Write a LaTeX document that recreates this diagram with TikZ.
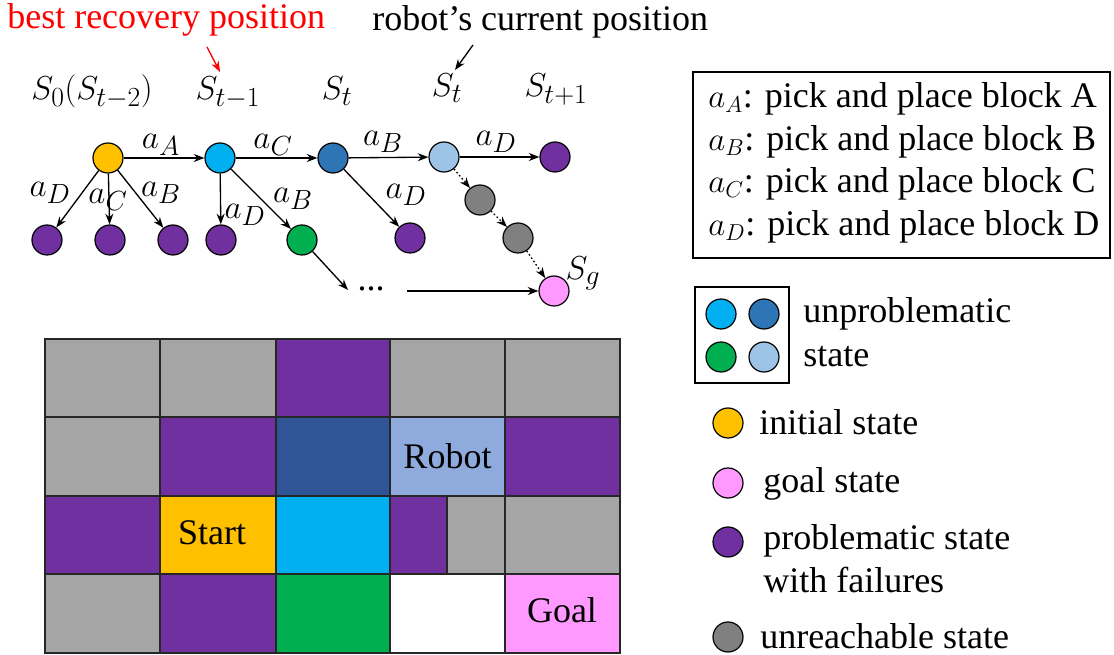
\documentclass[tikz,border=0pt]{standalone}
\usepackage{fontspec}
\setmainfont{Liberation Serif}
\newfontfamily\tnr{Liberation Serif}
\usetikzlibrary{arrows.meta}
\definecolor{cgray}{HTML}{A5A5A5}
\definecolor{cpurple}{HTML}{7030A0}
\definecolor{cdblue}{HTML}{2F5597}
\definecolor{clblue}{HTML}{8FAADC}
\definecolor{ccyan}{HTML}{00B0F0}
\definecolor{corange}{HTML}{FFC000}
\definecolor{cgreen}{HTML}{00B050}
\definecolor{cpink}{HTML}{FF99FF}
\definecolor{nblue}{HTML}{2E75B6}
\definecolor{npale}{HTML}{9DC3E6}
\definecolor{ngray}{HTML}{808080}
\definecolor{cred}{HTML}{FF0000}
\begin{document}
\begin{tikzpicture}[x=0.75pt,y=-0.75pt,
  every node/.style={font=\tnr\fontsize{27}{32}\selectfont},
  st/.style={circle,draw=black,line width=0.9pt,minimum size=22.5pt,inner sep=0pt},
  arr/.style={-{Stealth[length=8pt,width=6pt]},line width=1pt},
  dotarr/.style={arr,dash pattern=on 1.2pt off 1.8pt},
  cell/.style={draw=black!85,line width=0.8pt},
  lab/.style={inner sep=0pt,font=\tnr\fontsize{30}{34}\selectfont},
  txt/.style={anchor=base west,inner sep=0pt}]
\useasboundingbox (0,0) rectangle (1114,655);

% ---- top annotations
\node[txt,text=cred] (best) at (7,29) {best recovery position};
\node[txt] (robot) at (372,31) {robot’s current position};

% ---- state labels
\node[anchor=base,lab] (t0) at (92,100) {$S_0(S_{t-2})$};
\node[anchor=base,lab] (t1) at (228,100) {$S_{t-1}$};
\node[anchor=base,lab] (t2) at (337,100) {$S_t$};
\node[anchor=base,lab] (t3) at (447,97) {$S_t$};
\node[anchor=base,lab] (t4) at (556,97) {$S_{t+1}$};

\coordinate (ra1) at (207,47);
\coordinate (ra2) at (220,72);
\coordinate (ba1) at (473,45);
\coordinate (ba2) at (455,70);
\draw[arr,cred] (ra1) -- (ra2);
\draw[arr] (ba1) -- (ba2);

% ---- tree nodes
\node[st,fill=corange] (s0) at (108,158) {};
\node[st,fill=ccyan] (s1) at (220,158) {};
\node[st,fill=nblue] (s2) at (333,158) {};
\node[st,fill=npale] (s3) at (444,157) {};
\node[st,fill=cpurple] (s4) at (555,157) {};
\node[st,fill=cpurple] (p1) at (47,240) {};
\node[st,fill=cpurple] (p2) at (110,240) {};
\node[st,fill=cpurple] (p3) at (173,240) {};
\node[st,fill=cpurple] (p4) at (221,240) {};
\node[st,fill=cgreen] (g1) at (302,240) {};
\node[st,fill=cpurple] (p5) at (410,238) {};
\node[st,fill=ngray] (u1) at (480,200) {};
\node[st,fill=ngray] (u2) at (518,238) {};
\node[st,fill=cpink] (sg) at (554,291) {};
\node[inner sep=0pt] (dots) at (371,289) {...};
\coordinate (d1) at (348,290);
\coordinate (d2) at (407,291);

% ---- tree edges
\draw[arr] (s0) -- (s1);
\draw[arr] (s1) -- (s2);
\draw[arr] (s2) -- (s3);
\draw[arr] (s3) -- (s4);
\draw[arr] (s0) -- (p1);
\draw[arr] (s0) -- (p2);
\draw[arr] (s0) -- (p3);
\draw[arr] (s1) -- (p4);
\draw[arr] (s1) -- (g1);
\draw[arr] (s2) -- (p5);
\draw[dotarr] (s3) -- (u1);
\draw[dotarr] (u1) -- (u2);
\draw[dotarr] (u2) -- (sg);
\draw[arr] (g1) -- (d1);
\draw[arr] (d2) -- (sg);

% ---- edge labels
\node[lab] (l1) at (161,145) {$a_A$};
\node[lab] (l2) at (273,145) {$a_C$};
\node[lab] (l3) at (383,142) {$a_B$};
\node[lab] (l4) at (496,142) {$a_D$};
\node[lab] (l5) at (50,193) {$a_D$};
\node[lab] (l6) at (108,200) {$a_C$};
\node[lab] (l7) at (161,193) {$a_B$};
\node[lab] (l8) at (245,215) {$a_D$};
\node[lab] (l9) at (293,199) {$a_B$};
\node[lab] (l10) at (406,195) {$a_D$};
\node[lab] (lg) at (583,273) {$S_g$};

% ---- action legend
\node[draw=black,line width=1.1pt,minimum width=312.75pt,minimum height=139.5pt,inner sep=0pt] (actbox) at (901.5,165) {};
\node[txt] (aA) at (708,108) {$a_A$: pick and place block A};
\node[txt] (aB) at (708,151) {$a_B$: pick and place block B};
\node[txt] (aC) at (708,193) {$a_C$: pick and place block C};
\node[txt] (aD) at (708,236) {$a_D$: pick and place block D};

% ---- state legend
\node[draw=black,line width=1.1pt,minimum width=70.5pt,minimum height=72pt,inner sep=0pt] (unbox) at (742,335) {};
\node[st,fill=ccyan] (k1) at (721,314) {};
\node[st,fill=nblue] (k2) at (764,314) {};
\node[st,fill=cgreen] (k3) at (721,357) {};
\node[st,fill=npale] (k4) at (764,357) {};
\node[txt] (kt1) at (803,323) {unproblematic};
\node[txt] (kt2) at (803,367) {state};
\node[st,fill=corange] (k5) at (728,423) {};
\node[txt] (kt3) at (759,435) {initial state};
\node[st,fill=cpink] (k6) at (728,483) {};
\node[txt] (kt4) at (763,493) {goal state};
\node[st,fill=cpurple] (k7) at (728,542) {};
\node[txt] (kt5) at (763,550) {problematic state};
\node[txt] (kt6) at (763,593) {with failures};
\node[st,fill=ngray] (k8) at (728,637) {};
\node[txt] (kt7) at (760,648) {unreachable state};

% ---- grid
\def\ya{339}\def\yb{417}\def\yc{496}\def\yd{574}\def\ye{653}
% row 1
\filldraw[cell,fill=cgray] (45,\ya) rectangle (160,\yb);
\filldraw[cell,fill=cgray] (160,\ya) rectangle (276,\yb);
\filldraw[cell,fill=cpurple] (276,\ya) rectangle (390,\yb);
\filldraw[cell,fill=cgray] (390,\ya) rectangle (505,\yb);
\filldraw[cell,fill=cgray] (505,\ya) rectangle (620,\yb);
% row 2
\filldraw[cell,fill=cgray] (45,\yb) rectangle (160,\yc);
\filldraw[cell,fill=cpurple] (160,\yb) rectangle (276,\yc);
\filldraw[cell,fill=cdblue] (276,\yb) rectangle (390,\yc);
\filldraw[cell,fill=clblue] (390,\yb) rectangle (505,\yc);
\filldraw[cell,fill=cpurple] (505,\yb) rectangle (620,\yc);
% row 3
\filldraw[cell,fill=cpurple] (45,\yc) rectangle (160,\yd);
\filldraw[cell,fill=corange] (160,\yc) rectangle (276,\yd);
\filldraw[cell,fill=ccyan] (276,\yc) rectangle (390,\yd);
\filldraw[cell,fill=cpurple] (390,\yc) rectangle (447,\yd);
\filldraw[cell,fill=cgray] (447,\yc) rectangle (505,\yd);
\filldraw[cell,fill=cgray] (505,\yc) rectangle (620,\yd);
% row 4
\filldraw[cell,fill=cgray] (45,\yd) rectangle (160,\ye);
\filldraw[cell,fill=cpurple] (160,\yd) rectangle (276,\ye);
\filldraw[cell,fill=cgreen] (276,\yd) rectangle (390,\ye);
\filldraw[cell,fill=white] (390,\yd) rectangle (505,\ye);
\filldraw[cell,fill=cpink] (505,\yd) rectangle (620,\ye);
\node[anchor=base,inner sep=0pt] (robotcell) at (447.5,469) {Robot};
\node[anchor=base,inner sep=0pt] (startcell) at (212,545) {Start};
\node[anchor=base,inner sep=0pt] (goalcell) at (562,623) {Goal};
\end{tikzpicture}
\end{document}
